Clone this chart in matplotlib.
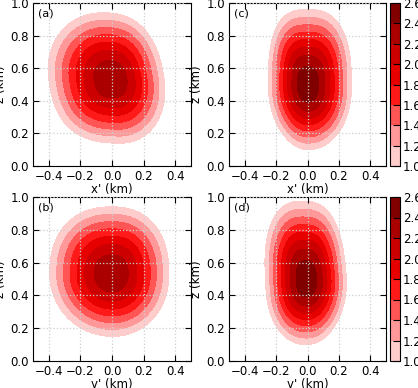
import numpy as np
import matplotlib
matplotlib.use("Agg")
import matplotlib.pyplot as plt

# ---- data ----
levels = [1.0, 1.2, 1.4, 1.6, 1.8, 2.0, 2.2, 2.4, 2.6]
level_colors = ['#ffcccc', '#ff9999', '#ff5555', '#ff1a1a',
                '#e60000', '#cc0000', '#aa0000', '#800000']
cbar_ticks = [1.0, 1.2, 1.4, 1.6, 1.8, 2.0, 2.2, 2.4, 2.6]
xticks = [-0.4, -0.2, 0.0, 0.2, 0.4]
zticks = [0.0, 0.2, 0.4, 0.6, 0.8, 1.0]

# Each blob: centre (km), peak value, extent of the 1.0 contour
# (left, right, top, bottom, km), lean of upper/lower half, and
# squareness of the four quadrants (upper-right, upper-left, lower-left, lower-right)
a_center = (0.0, 0.53)
a_peak = 2.36
a_extent = (0.40, 0.33, 0.41, 0.39)
a_lean = (0.15, 0.15)
a_square = (2.5, 2.0, 2.7, 2.0)

b_center = (0.0, 0.53)
b_peak = 2.36
b_extent = (0.394, 0.36, 0.41, 0.38)
b_lean = (0.0, 0.0)
b_square = (2.3, 2.3, 2.0, 2.1)

c_center = (0.0, 0.49)
c_peak = 2.55
c_extent = (0.25, 0.28, 0.47, 0.39)
c_lean = (0.0, 0.0)
c_square = (2.6, 2.8, 1.9, 2.1)

d_center = (-0.005, 0.49)
d_peak = 2.55
d_extent = (0.261, 0.254, 0.485, 0.39)
d_lean = (0.08, 0.0)
d_square = (2.8, 2.3, 2.2, 2.0)

panels = [
    ('(a)', "x' (km)", a_center, a_peak, a_extent, a_lean, a_square),
    ('(c)', "x' (km)", c_center, c_peak, c_extent, c_lean, c_square),
    ('(b)', "y' (km)", b_center, b_peak, b_extent, b_lean, b_square),
    ('(d)', "y' (km)", d_center, d_peak, d_extent, d_lean, d_square),
]

plt.rcParams['font.family'] = ['DejaVu Sans']
plt.rcParams['font.size'] = 8.5

W, H = 418, 388
fig = plt.figure(figsize=(W / 100, H / 100), dpi=100)

def rect(l, t, r, b):
    return [l / W, 1 - b / H, (r - l) / W, (b - t) / H]

axes_rects = [rect(33, 3, 191, 166), rect(229, 3, 386, 166),
              rect(33, 197, 191, 361), rect(229, 197, 386, 361)]
cbar_rects = [rect(390, 3, 400, 166), rect(390, 197, 400, 361)]

xg = np.linspace(-0.5, 0.5, 201)
zg = np.linspace(0.0, 1.0, 201)
X, Z = np.meshgrid(xg, zg)

def field(center, peak, extent, lean, square):
    al, ar, bt, bb = extent
    dz = Z - center[1]
    up = dz >= 0
    dx = X - center[0] + np.where(up, lean[0], lean[1]) * dz
    right = dx >= 0
    a = np.where(right, ar, al)
    b = np.where(up, bt, bb)
    p = np.where(up, np.where(right, square[0], square[1]),
                 np.where(right, square[3], square[2]))
    rho = (np.abs(dx / a) ** p + np.abs(dz / b) ** p) ** (1.0 / p)
    return peak * np.exp(-np.log(peak) * rho ** 2)

for i, (lab, xl, cen, pk, ext, ln, sq) in enumerate(panels):
    ax = fig.add_axes(axes_rects[i])
    F = field(cen, pk, ext, ln, sq)
    cf = ax.contourf(X, Z, F, levels=levels, colors=level_colors)
    ax.set_xlim(-0.5, 0.5)
    ax.set_ylim(0.0, 1.0)
    ax.set_xticks(xticks)
    ax.set_yticks(zticks)
    ax.set_xticklabels(['\u22120.4', '\u22120.2', '0.0', '0.2', '0.4'])
    ax.set_yticklabels(['0.0', '0.2', '0.4', '0.6', '0.8', '1.0'])
    ax.tick_params(direction='in', top=True, right=True, length=4, width=0.8, pad=3)
    ax.grid(True, linestyle=':', color='#cfcfcf', linewidth=0.9)
    ax.set_axisbelow(False)
    ax.set_xlabel(xl, labelpad=0)
    ax.set_ylabel('z (km)', labelpad=2)
    ax.text(0.03, 0.965, lab, transform=ax.transAxes, ha='left', va='top', fontsize=8)
    if i % 2 == 1:
        cax = fig.add_axes(cbar_rects[i // 2])
        cb = fig.colorbar(cf, cax=cax, ticks=cbar_ticks)
        cb.ax.set_yticklabels(['%.1f' % t for t in cbar_ticks])
        cb.ax.tick_params(direction='in', length=5, width=0.8, pad=2)
        cb.outline.set_linewidth(0.8)

fig.savefig('out.png', dpi=100)
